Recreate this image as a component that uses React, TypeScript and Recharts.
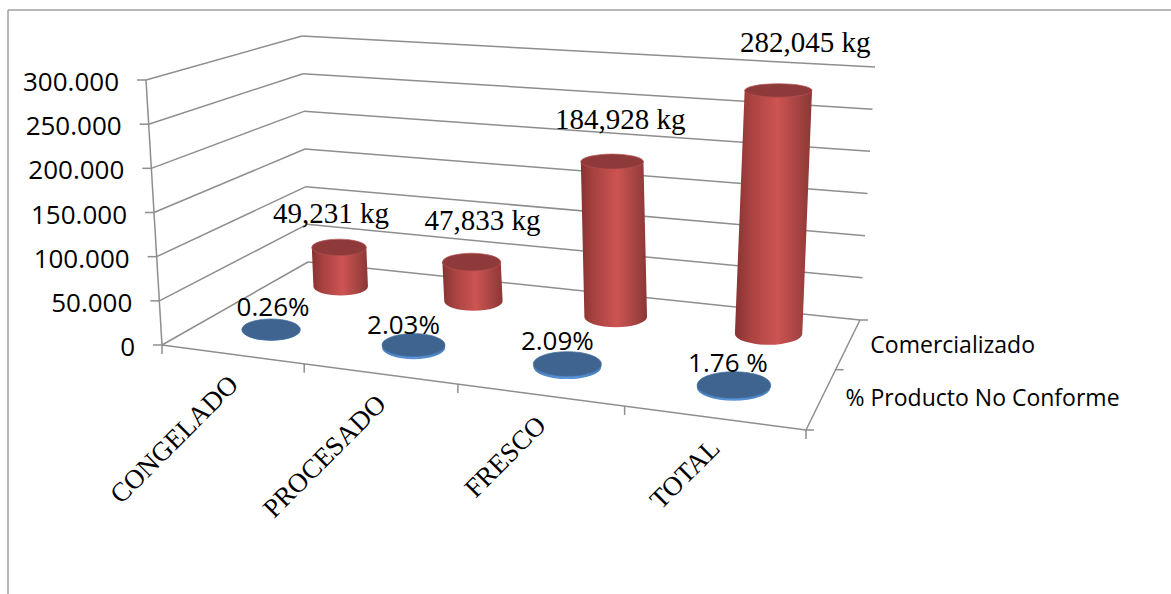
import { BarChart, Bar, XAxis, YAxis } from "recharts"

const categories = ["CONGELADO", "PROCESADO", "FRESCO", "TOTAL"]
const soldKg = [49231, 47833, 184928, 282045]
const nonConformingPct = [0.26, 2.03, 2.09, 1.76]
const pctLabels = ["0.26%", "2.03%", "2.09%", "1.76 %"]
const kgTicks = [0, 50000, 100000, 150000, 200000, 250000, 300000]
const seriesNames = ["% Producto No Conforme", "Comercializado"]

const tableData = categories.map((name, i) => ({
  name,
  sold: soldKg[i],
  pct: nonConformingPct[i],
}))

const WIDTH = 1171
const HEIGHT = 594
const PLOT = { left: 162, top: 80, width: 644, height: 265 }

type Pt = [number, number]

// unit square -> quad, corners in order (0,0) (1,0) (1,1) (0,1)
function quadMap(q: Pt[]) {
  const [[x0, y0], [x1, y1], [x2, y2], [x3, y3]] = q
  const dx1 = x1 - x2, dx2 = x3 - x2, dx3 = x0 - x1 + x2 - x3
  const dy1 = y1 - y2, dy2 = y3 - y2, dy3 = y0 - y1 + y2 - y3
  const det = dx1 * dy2 - dx2 * dy1
  const g = (dx3 * dy2 - dx2 * dy3) / det
  const h = (dx1 * dy3 - dx3 * dy1) / det
  const a = x1 - x0 + g * x1, b = x3 - x0 + h * x3
  const d = y1 - y0 + g * y1, e = y3 - y0 + h * y3
  return (u: number, v: number): Pt => {
    const k = g * u + h * v + 1
    return [(a * u + b * v + x0) / k, (d * u + e * v + y0) / k]
  }
}

// floor and ceiling of the 3D box: front-left, front-right, back-right, back-left
const floor = quadMap([[162, 345], [806, 430], [860, 320], [308, 262]])
const ceiling = quadMap([[146, 80], [860, 138], [875, 67], [302, 36]])

function project(u: number, v: number, w: number): Pt {
  const a = floor(u, v)
  const b = ceiling(u, v)
  return [a[0] + (b[0] - a[0]) * w, a[1] + (b[1] - a[1]) * w]
}

const GRID = "#8e8e8e"
const SANS = "'Open Sans', sans-serif"
const SERIF = "'Liberation Serif', serif"

const DEPTH_RADIUS = 0.115
// hand placed value labels, relative to the top of each cylinder
const soldLabelNudge: Pt[] = [[-8, -24], [11, -32], [8, -33], [27, -38]]
const pctLabelNudge: Pt[] = [[2, -14], [-10, -11], [-10, -14], [-6, -13]]

const fmtTick = (v: number) => String(v).replace(/\B(?=(\d{3})+$)/g, ".")
const fmtKg = (v: number) => String(v).replace(/\B(?=(\d{3})+$)/g, ",") + " kg"

function Cylinder(props: any) {
  const { x, y, width, index, depth, body, top, rimStroke } = props
  const u = (x + width / 2 - PLOT.left) / PLOT.width
  const ru = width / 2 / PLOT.width
  const w = (PLOT.top + PLOT.height - y) / PLOT.height

  const section = (level: number) => {
    const [cx, cy] = project(u, depth, level)
    const near = project(u, depth - DEPTH_RADIUS, level)
    const far = project(u, depth + DEPTH_RADIUS, level)
    return { cx, cy, ry: Math.abs(near[1] - far[1]) / 2 }
  }
  // the radius is taken on the floor so the cylinder keeps its width going up
  const l = project(u - ru, depth, 0)
  const r = project(u + ru, depth, 0)
  const rx = Math.hypot(r[0] - l[0], r[1] - l[1]) / 2
  const b = section(0)
  const t = section(w)
  const side = `M${t.cx - rx},${t.cy} L${b.cx - rx},${b.cy} A${rx},${b.ry} 0 0 0 ${b.cx + rx},${b.cy} L${t.cx + rx},${t.cy} Z`

  const isSold = depth > 0.5
  const nudge = isSold ? soldLabelNudge[index] : pctLabelNudge[index]
  return (
    <g>
      <path d={side} fill={`url(#${body})`} />
      <ellipse cx={t.cx} cy={t.cy} rx={rx} ry={t.ry} fill={top} stroke={rimStroke} strokeWidth={0.7} />
      <text
        x={t.cx + nudge[0]}
        y={t.cy + nudge[1]}
        textAnchor="middle"
        fontFamily={isSold ? SERIF : SANS}
        fontSize={isSold ? 29 : 26}
        fill="#000"
      >
        {isSold ? fmtKg(soldKg[index]) : pctLabels[index]}
      </text>
    </g>
  )
}

function KgTick({ y, payload }: any) {
  const w = (PLOT.top + PLOT.height - y) / PLOT.height
  const [px, py] = project(0, 0, w)
  return (
    <g>
      <line x1={px - 9} y1={py} x2={px} y2={py} stroke={GRID} strokeWidth={1.5} />
      <text x={px - 27} y={py + 11} textAnchor="end" fontFamily={SANS} fontSize={26} fill="#000">
        {fmtTick(payload.value)}
      </text>
    </g>
  )
}

function CategoryTick({ x, payload }: any) {
  const [px, py] = project((x - PLOT.left) / PLOT.width, 0, 0)
  const ax = px + 8
  const ay = py + 32
  return (
    <text
      x={ax}
      y={ay}
      textAnchor="end"
      transform={`rotate(-45 ${ax} ${ay})`}
      fontFamily={SERIF}
      fontSize={27}
      fill="#000"
    >
      {payload.value}
    </text>
  )
}

// frame, back walls, floor edges and the depth axis
function Box() {
  const seg = (a: Pt, b: Pt, key: string) => (
    <line key={key} x1={a[0]} y1={a[1]} x2={b[0]} y2={b[1]} stroke={GRID} strokeWidth={1.5} />
  )
  const walls = kgTicks.map((t) => {
    const w = t / kgTicks[kgTicks.length - 1]
    const corner = project(0, 1, w)
    return (
      <g key={t}>
        {seg(project(0, 0, w), corner, "side")}
        {seg(corner, project(1, 1, w), "back")}
      </g>
    )
  })
  const xMarks = [0, 0.25, 0.5, 0.75, 1].map((u) => {
    const p = project(u, 0, 0)
    return seg(p, [p[0], p[1] + 9], `x${u}`)
  })
  const zMarks = [0, 0.5, 1].map((v) => {
    const p = project(1, v, 0)
    return seg(p, [p[0] + 8, p[1]], `z${v}`)
  })
  const labelAt = (v: number): Pt => project(1, v, 0)
  return (
    <g>
      <line x1={8} y1={10} x2={WIDTH} y2={10} stroke="#a0a0a0" strokeWidth={1.5} />
      <line x1={8} y1={10} x2={8} y2={HEIGHT} stroke="#a0a0a0" strokeWidth={1.5} />
      {walls}
      {seg(project(0, 0, 0), project(0, 0, 1), "axis")}
      {seg(project(0, 0, 0), project(1, 0, 0), "front")}
      {seg(project(1, 0, 0), project(1, 1, 0), "right")}
      {xMarks}
      {zMarks}
      <text x={labelAt(0.25)[0] + 24} y={labelAt(0.25)[1] + 8} fontFamily={SANS} fontSize={23} fill="#000">
        {seriesNames[0]}
      </text>
      <text x={labelAt(0.75)[0] + 22} y={labelAt(0.75)[1] + 9} fontFamily={SANS} fontSize={23} fill="#000">
        {seriesNames[1]}
      </text>
    </g>
  )
}

export default function App() {
  return (
    <div style={{ position: "absolute", left: 0, top: 0, width: WIDTH, height: HEIGHT, overflow: "hidden", background: "#fff" }}>
      <BarChart
        width={WIDTH}
        height={HEIGHT}
        data={tableData}
        barSize={68}
        margin={{ top: PLOT.top, right: WIDTH - PLOT.left - PLOT.width, bottom: HEIGHT - PLOT.top - PLOT.height - 30, left: PLOT.left - 60 }}
      >
        <defs>
          <linearGradient id="redBody" x1="0" y1="0" x2="1" y2="0">
            <stop offset="0" stopColor="#863331" />
            <stop offset="0.2" stopColor="#a84240" />
            <stop offset="0.55" stopColor="#cd5452" />
            <stop offset="0.8" stopColor="#a84543" />
            <stop offset="1" stopColor="#8a3836" />
          </linearGradient>
          <linearGradient id="blueBody" x1="0" y1="0" x2="1" y2="0">
            <stop offset="0" stopColor="#4a7ebc" />
            <stop offset="0.5" stopColor="#5b96de" />
            <stop offset="1" stopColor="#4a7ebc" />
          </linearGradient>
        </defs>
        <Box />
        <XAxis dataKey="name" height={30} axisLine={false} tickLine={false} interval={0} tick={<CategoryTick />} />
        <YAxis
          yAxisId="kg"
          width={60}
          domain={[0, 300000]}
          ticks={kgTicks}
          axisLine={false}
          tickLine={false}
          tick={<KgTick />}
        />
        <YAxis yAxisId="pct" hide domain={[0, 200]} />
        <Bar
          yAxisId="kg"
          stackId="row"
          dataKey="sold"
          isAnimationActive={false}
          shape={<Cylinder depth={0.76} body="redBody" top="#8f3a3a" rimStroke="#b65050" />}
        />
        <Bar
          yAxisId="pct"
          stackId="row"
          dataKey="pct"
          isAnimationActive={false}
          shape={<Cylinder depth={0.25} body="blueBody" top="#3e648f" rimStroke="#45709f" />}
        />
      </BarChart>
    </div>
  )
}
